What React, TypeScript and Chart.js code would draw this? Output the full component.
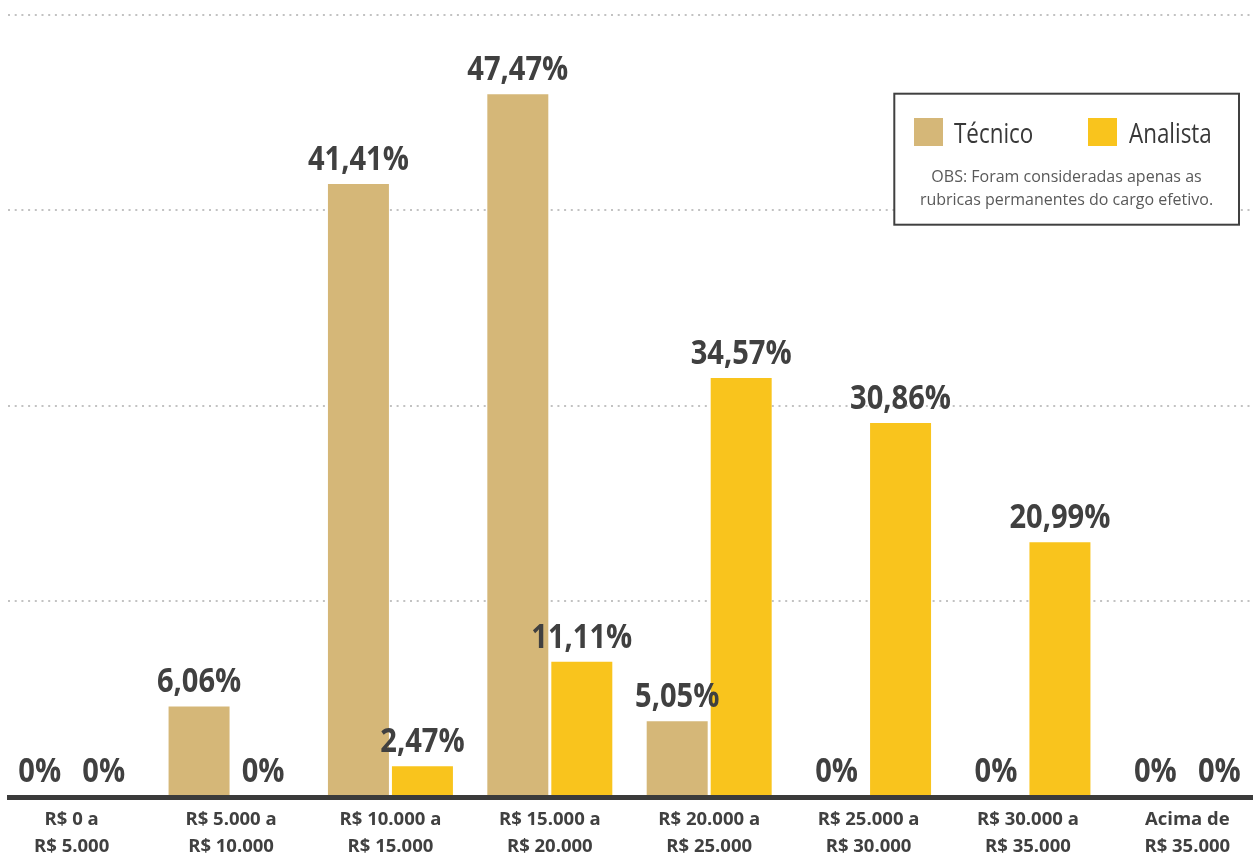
import { useEffect, useRef } from "react";
import { Chart, registerables } from "chart.js";

Chart.register(...registerables);

// ---- data ----
const categories: string[][] = [
  ["R$ 0 a", "R$ 5.000"],
  ["R$ 5.000 a", "R$ 10.000"],
  ["R$ 10.000 a", "R$ 15.000"],
  ["R$ 15.000 a", "R$ 20.000"],
  ["R$ 20.000 a", "R$ 25.000"],
  ["R$ 25.000 a", "R$ 30.000"],
  ["R$ 30.000 a", "R$ 35.000"],
  ["Acima de", "R$ 35.000"],
];
const seriesNames = ["Técnico", "Analista"];
const tecnico = [0, 6.06, 41.41, 47.47, 5.05, 0, 0, 0];
const analista = [0, 0, 2.47, 11.11, 34.57, 30.86, 20.99, 0];
const noteLines = [
  "OBS: Foram consideradas apenas as",
  "rubricas permanentes do cargo efetivo.",
];

// ---- styling ----
const TEC_COLOR = "#D5B778";
const ANA_COLOR = "#F9C41D";
const TEXT_DARK = "#404040";
const SHIFT = 8; // canvas is shifted left of the page edge
const CANVAS_W = 1275;
const CANVAS_H = 859;
const TEC_AXIS_MAX = 52.84;
const ANA_AXIS_MAX = 64.6;
const OPEN = "'Open Sans', 'Liberation Sans', sans-serif";

const px = (pageX: number) => pageX + SHIFT;

const fmt = (v: number) =>
  v === 0 ? "0%" : v.toFixed(2).replace(".", ",") + "%";

// draw text horizontally condensed (the original uses a condensed face)
function condensedText(
  ctx: CanvasRenderingContext2D,
  text: string,
  x: number,
  y: number,
  sx: number
) {
  ctx.save();
  ctx.translate(x, y);
  ctx.scale(sx, 1);
  ctx.fillText(text, 0, 0);
  ctx.restore();
}

const gridPlugin = {
  id: "dottedGrid",
  beforeDatasetsDraw(chart: any) {
    const { ctx } = chart;
    const y = chart.scales.y;
    ctx.save();
    ctx.strokeStyle = "#c2c2c2";
    ctx.lineWidth = 2;
    ctx.setLineDash([2, 4.7]);
    y.ticks.forEach((t: any) => {
      if (t.value <= 0) return;
      const yy = Math.round(y.getPixelForValue(t.value));
      ctx.beginPath();
      ctx.moveTo(px(8), yy);
      ctx.lineTo(chart.width, yy);
      ctx.stroke();
    });
    ctx.restore();
  },
};

const baselineAndLabels = {
  id: "baselineAndLabels",
  afterDatasetsDraw(chart: any) {
    const { ctx } = chart;
    const y = chart.scales.y;
    const zero = y.getPixelForValue(0);
    ctx.save();
    ctx.fillStyle = "#3b3b3b";
    ctx.fillRect(px(7), zero - 1, chart.width, 5);

    ctx.fillStyle = TEXT_DARK;
    ctx.font = `bold 34px ${OPEN}`;
    ctx.textAlign = "center";
    ctx.textBaseline = "alphabetic";
    chart.data.datasets.forEach((ds: any, i: number) => {
      const meta = chart.getDatasetMeta(i);
      meta.data.forEach((bar: any, j: number) => {
        const v = ds.data[j] as number;
        condensedText(ctx, fmt(v), bar.x, bar.y - 14, 0.855);
      });
    });
    ctx.restore();
  },
};

const legendPlugin = {
  id: "legendBox",
  afterDraw(chart: any) {
    const { ctx } = chart;
    ctx.save();
    const bx = px(894.3);
    const by = 93.7;
    const bw = 1239 - 894.3;
    const bh = 224.7 - 93.7;
    ctx.fillStyle = "#ffffff";
    ctx.fillRect(bx, by, bw, bh);
    ctx.strokeStyle = "#404040";
    ctx.lineWidth = 2;
    ctx.strokeRect(bx, by, bw, bh);

    const colors = [TEC_COLOR, ANA_COLOR];
    const swatchX = [914, 1088];
    const textX = [954, 1129];
    ctx.font = `27px ${OPEN}`;
    ctx.textAlign = "left";
    ctx.textBaseline = "alphabetic";
    seriesNames.forEach((name, i) => {
      ctx.fillStyle = colors[i];
      ctx.fillRect(px(swatchX[i]), 118, 29, 28);
      ctx.fillStyle = "#383838";
      condensedText(ctx, name, px(textX[i]), 142.5, 0.83);
    });

    ctx.font = `16px ${OPEN}`;
    ctx.textAlign = "center";
    ctx.fillStyle = "#595959";
    noteLines.forEach((line, i) => {
      ctx.fillText(line, px(1066.5), 182 + i * 23);
    });
    ctx.restore();
  },
};

export default function App() {
  const canvasRef = useRef<HTMLCanvasElement | null>(null);

  useEffect(() => {
    if (!canvasRef.current) return;
    const chart = new Chart(canvasRef.current, {
      type: "bar",
      data: {
        labels: categories,
        datasets: [
          {
            label: seriesNames[0],
            data: tecnico,
            backgroundColor: TEC_COLOR,
            yAxisID: "y",
            barPercentage: 0.953,
            categoryPercentage: 0.8031,
          },
          {
            label: seriesNames[1],
            data: analista,
            backgroundColor: ANA_COLOR,
            yAxisID: "y2",
            barPercentage: 0.953,
            categoryPercentage: 0.8031,
          },
        ],
      },
      options: {
        responsive: false,
        maintainAspectRatio: false,
        animation: false,
        devicePixelRatio: 1,
        layout: { padding: { top: 15, left: 0, right: 0, bottom: 0 } },
        plugins: {
          legend: { display: false },
          tooltip: { enabled: false },
        },
        scales: {
          x: {
            grid: { display: false, drawTicks: false },
            border: { display: false },
            ticks: {
              color: TEXT_DARK,
              font: { family: OPEN, weight: "bold", size: 18.5, lineHeight: 27 / 18.5 },
              padding: 10,
              maxRotation: 0,
              minRotation: 0,
              autoSkip: false,
            },
            afterFit: (scale: any) => {
              scale.height = 63;
            },
          },
          y: {
            display: false,
            min: 0,
            max: TEC_AXIS_MAX,
            afterBuildTicks: (scale: any) => {
              scale.ticks = [0, 1, 2, 3, 4].map((i) => ({ value: (scale.max * i) / 4 }));
            },
          },
          y2: {
            display: false,
            min: 0,
            max: ANA_AXIS_MAX,
          },
        },
      },
      plugins: [gridPlugin, baselineAndLabels, legendPlugin],
    });
    return () => chart.destroy();
  }, []);

  return (
    <div
      style={{
        position: "fixed",
        left: 0,
        top: 0,
        width: 1253,
        height: 859,
        overflow: "hidden",
        background: "#ffffff",
      }}
    >
      <canvas
        ref={canvasRef}
        width={CANVAS_W}
        height={CANVAS_H}
        style={{ position: "absolute", left: -SHIFT, top: 0, width: CANVAS_W, height: CANVAS_H }}
      />
    </div>
  );
}
